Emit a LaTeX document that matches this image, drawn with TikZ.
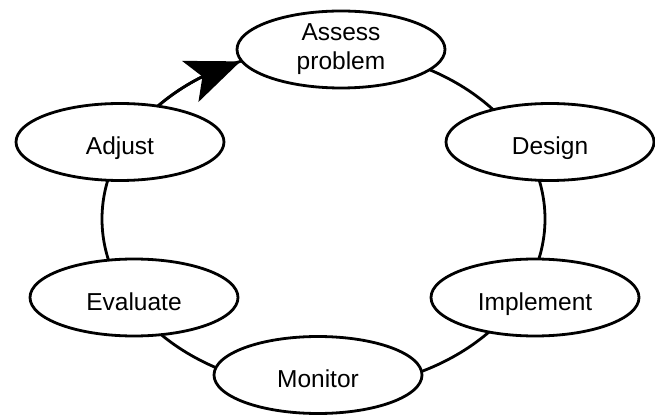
\documentclass[tikz,border=0pt]{standalone}
\usepackage{fontspec}
\setmainfont{Liberation Sans}
\usetikzlibrary{shapes.geometric,arrows.meta,bending,backgrounds,calc}
\begin{document}
\begin{tikzpicture}[x=1pt,y=1pt,
  stage/.style={ellipse, draw=black, line width=2.8pt, fill=white,
    minimum width=208pt, minimum height=77pt, inner sep=0pt,
    font=\fontsize{24.5}{29}\selectfont, text=black},
  oneline/.style={text height=25.4pt, text depth=0pt},
  ring/.style={draw=black, line width=2.8pt}]
\useasboundingbox (0,0) rectangle (655,415);

% the six stages of the cycle
\node[stage, align=center] (assess) at (341,365.5) {Assess\\problem};
\node[stage, oneline] (design)    at (550,273)   {Design};
\node[stage, oneline] (implement) at (535,117.5) {Implement};
\node[stage, oneline] (monitor)   at (318,40)    {Monitor};
\node[stage, oneline] (evaluate)  at (134,117.5) {Evaluate};
\node[stage, oneline] (adjust)    at (120,273)   {Adjust};

% the ring joining them, with the arrow back into the first stage
\coordinate (ringc) at (323.5,196);
\coordinate (arrowtail) at ($(ringc)+(140:221.5 and 170)$);
\begin{scope}[on background layer]
  \draw[ring] (ringc) ellipse [x radius=221.5, y radius=170];
  \draw[ring, -{Stealth[length=54pt, width=44pt, inset=13pt, flex]}]
    (arrowtail) arc[start angle=140, end angle=112, x radius=221.5, y radius=170];
\end{scope}
\end{tikzpicture}
\end{document}
